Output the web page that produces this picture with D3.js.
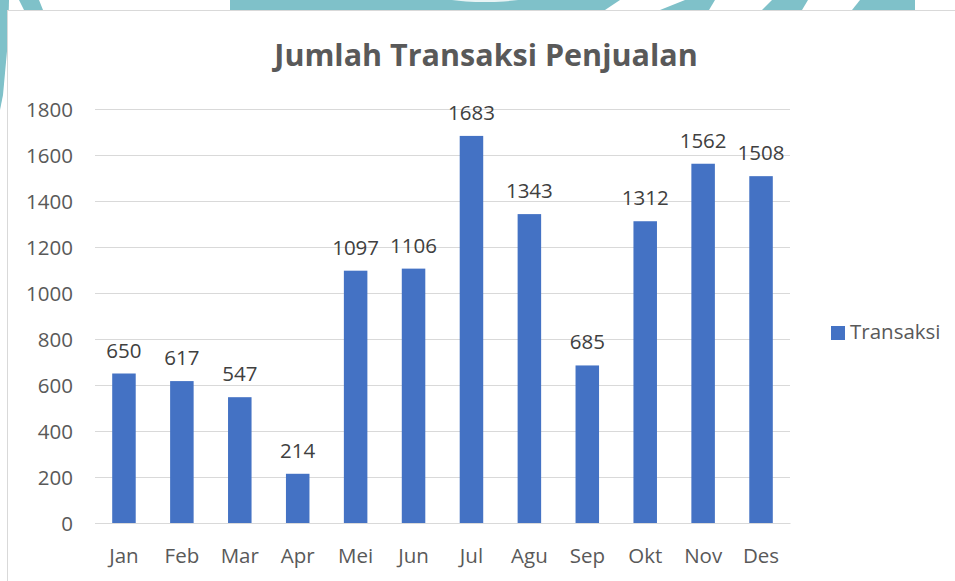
<!DOCTYPE html>
<html><head><meta charset="utf-8">
<script src="https://cdn.jsdelivr.net/npm/d3@7"></script>
<style>html,body{margin:0;padding:0;background:#fff;}svg{display:block;}</style>
</head><body>
<svg id="c" width="955" height="581"></svg>
<script>
const categories = ["Jan","Feb","Mar","Apr","Mei","Jun","Jul","Agu","Sep","Okt","Nov","Des"];
const transaksi = [650,617,547,214,1097,1106,1683,1343,685,1312,1562,1508];
const yTicks = [0,200,400,600,800,1000,1200,1400,1600,1800];
const title = "Jumlah Transaksi Penjualan";
const seriesName = "Transaksi";

const svg = d3.select("#c");
const teal = "#7fc1c9";
const font = "'Open Sans', sans-serif";
const fs = 20.5;

// background decoration
const deco = svg.append("g");
deco.append("path").attr("d","M0,0 L9,0 L8,40 L3,95 L0,110 Z").attr("fill",teal);
deco.append("path").attr("d","M19,0 L39,0 L43,10 L24,10 Z").attr("fill",teal);
deco.append("path").attr("d","M230,0 L620,0 L605,10 L230,10 Z").attr("fill",teal);
deco.append("ellipse").attr("cx",485).attr("cy",-6).attr("rx",50).attr("ry",8).attr("fill","#e8f4f5");
deco.append("path").attr("d","M685,0 L715,0 L709,10 L660,10 Z").attr("fill",teal);
deco.append("path").attr("d","M772,0 L808,0 L802,10 L762,10 Z").attr("fill",teal);
deco.append("path").attr("d","M860,0 L915,0 L915,10 L852,10 Z").attr("fill",teal);

// chart frame
svg.append("rect").attr("x",7.5).attr("y",10.5).attr("width",960).attr("height",580)
  .attr("fill","#fff").attr("stroke","#d9d9d9").attr("stroke-width",1);

const x = d3.scaleBand().domain(categories).range([95,790]).paddingInner(0.594).paddingOuter(0.297);
const y = d3.scaleLinear().domain([0,1800]).range([523,109]);

// gridlines
svg.append("g").selectAll("line").data(yTicks).join("line")
  .attr("x1",95).attr("x2",790)
  .attr("y1",d=>Math.round(y(d))+0.5).attr("y2",d=>Math.round(y(d))+0.5)
  .attr("stroke","#d9d9d9").attr("stroke-width",1);

// y axis labels
const yAxis = d3.axisLeft(y).tickValues(yTicks).tickFormat(d3.format("d")).tickSize(0).tickPadding(0);
const ga = svg.append("g").attr("transform","translate(73,0)").call(yAxis);
ga.select(".domain").remove();
ga.selectAll("text").attr("font-family",font).attr("font-size",fs).attr("fill","#595959").attr("dy","0.35em");

// bars
svg.append("g").selectAll("rect").data(transaksi).join("rect")
  .attr("x",(d,i)=>x(categories[i])).attr("width",x.bandwidth())
  .attr("y",d=>y(d)).attr("height",d=>y(0)-y(d)).attr("fill","#4472c4");

// data labels
svg.append("g").selectAll("text").data(transaksi).join("text")
  .attr("x",(d,i)=>x(categories[i])+x.bandwidth()/2).attr("y",d=>y(d)-16)
  .attr("text-anchor","middle").attr("font-family",font).attr("font-size",fs).attr("fill","#404040")
  .text(d=>d);

// x axis
const xAxis = d3.axisBottom(x).tickSize(0).tickPadding(0);
const gx = svg.append("g").attr("transform","translate(0,523)").call(xAxis);
gx.select(".domain").attr("stroke","#d9d9d9");
gx.selectAll("text").attr("font-family",font).attr("font-size",fs).attr("fill","#595959").attr("y",40).attr("dy",0);

// title
svg.append("text").attr("x",486).attr("y",66).attr("text-anchor","middle")
  .attr("font-family",font).attr("font-weight","bold").attr("font-size",30.5).attr("fill","#595959").text(title);

// legend
svg.append("rect").attr("x",831).attr("y",326).attr("width",14).attr("height",14).attr("fill","#4472c4");
svg.append("text").attr("x",850).attr("y",339).attr("font-family",font).attr("font-size",fs).attr("fill","#595959").text(seriesName);
</script>
</body></html>
